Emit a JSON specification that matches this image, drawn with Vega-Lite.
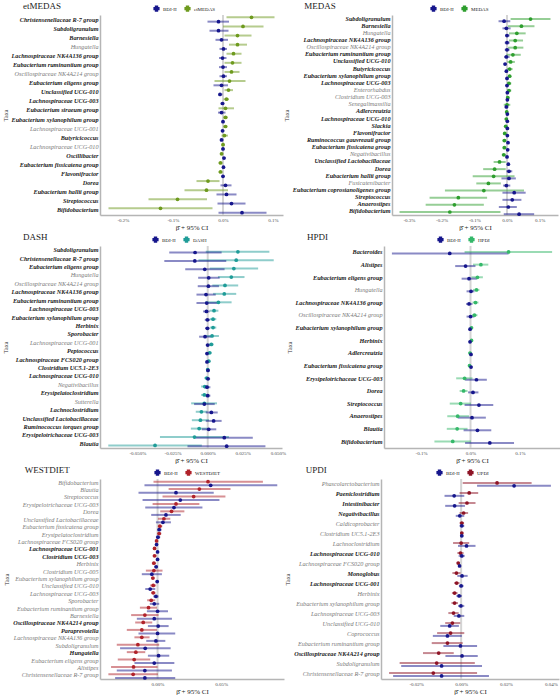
{
"$schema": "https://vega.github.io/schema/vega-lite/v6.json",
"background": "white",
"padding": {"left": 2, "top": 2, "right": 2, "bottom": 1},
"datasets": {
"etmedas": [
{"taxon":"Christensenellaceae R-7 group","group":"etMEDAS","beta":0.057,"lo":0.007,"hi":0.103},{"taxon":"Christensenellaceae R-7 group","group":"BDI-II","beta":-0.009,"lo":-0.031,"hi":0.012},
{"taxon":"Subdoligranulum","group":"etMEDAS","beta":0.040,"lo":0.000,"hi":0.081},{"taxon":"Subdoligranulum","group":"BDI-II","beta":-0.009,"lo":-0.027,"hi":0.011},
{"taxon":"Barnesiella","group":"etMEDAS","beta":0.029,"lo":0.003,"hi":0.057},{"taxon":"Barnesiella","group":"BDI-II","beta":-0.003,"lo":-0.015,"hi":0.010},
{"taxon":"Hungatella","group":"etMEDAS","beta":0.029,"lo":0.012,"hi":0.048},{"taxon":"Hungatella","group":"BDI-II","beta":0.001,"lo":-0.007,"hi":0.008},
{"taxon":"Lachnospiraceae NK4A136 group","group":"etMEDAS","beta":0.021,"lo":0.007,"hi":0.037},{"taxon":"Lachnospiraceae NK4A136 group","group":"BDI-II","beta":-0.001,"lo":-0.008,"hi":0.007},
{"taxon":"Eubacterium ruminantium group","group":"etMEDAS","beta":0.019,"lo":0.003,"hi":0.037},{"taxon":"Eubacterium ruminantium group","group":"BDI-II","beta":0.000,"lo":-0.008,"hi":0.008},
{"taxon":"Oscillospiraceae NK4A214 group","group":"etMEDAS","beta":0.017,"lo":0.003,"hi":0.033},{"taxon":"Oscillospiraceae NK4A214 group","group":"BDI-II","beta":0.001,"lo":-0.007,"hi":0.008},
{"taxon":"Eubacterium eligens group","group":"etMEDAS","beta":0.013,"lo":-0.017,"hi":0.045},{"taxon":"Eubacterium eligens group","group":"BDI-II","beta":-0.003,"lo":-0.019,"hi":0.010},
{"taxon":"Unclassified UCG-010","group":"etMEDAS","beta":0.011,"lo":0.003,"hi":0.020},{"taxon":"Unclassified UCG-010","group":"BDI-II","beta":-0.006,"lo":-0.009,"hi":-0.001},
{"taxon":"Lachnospiraceae UCG-003","group":"etMEDAS","beta":0.007,"lo":0.001,"hi":0.012},{"taxon":"Lachnospiraceae UCG-003","group":"BDI-II","beta":-0.001,"lo":-0.005,"hi":0.003},
{"taxon":"Eubacterium siraeum group","group":"etMEDAS","beta":0.005,"lo":-0.009,"hi":0.022},{"taxon":"Eubacterium siraeum group","group":"BDI-II","beta":-0.003,"lo":-0.010,"hi":0.005},
{"taxon":"Eubacterium xylanophilum group","group":"etMEDAS","beta":0.005,"lo":0.000,"hi":0.010},{"taxon":"Eubacterium xylanophilum group","group":"BDI-II","beta":0.000,"lo":-0.003,"hi":0.003},
{"taxon":"Lachnospiraceae UCG-001","group":"etMEDAS","beta":0.005,"lo":0.000,"hi":0.009},{"taxon":"Lachnospiraceae UCG-001","group":"BDI-II","beta":-0.001,"lo":-0.003,"hi":0.003},
{"taxon":"Butyricicoccus","group":"etMEDAS","beta":0.003,"lo":-0.003,"hi":0.010},{"taxon":"Butyricicoccus","group":"BDI-II","beta":-0.003,"lo":-0.006,"hi":0.001},
{"taxon":"Lachnospiraceae UCG-010","group":"etMEDAS","beta":0.000,"lo":-0.003,"hi":0.004},{"taxon":"Lachnospiraceae UCG-010","group":"BDI-II","beta":0.000,"lo":-0.003,"hi":0.003},
{"taxon":"Oscillibacter","group":"etMEDAS","beta":-0.003,"lo":-0.006,"hi":0.001},{"taxon":"Oscillibacter","group":"BDI-II","beta":0.002,"lo":-0.001,"hi":0.005},
{"taxon":"Eubacterium fissicatena group","group":"etMEDAS","beta":-0.005,"lo":-0.009,"hi":-0.001},{"taxon":"Eubacterium fissicatena group","group":"BDI-II","beta":0.001,"lo":-0.001,"hi":0.004},
{"taxon":"Flavonifractor","group":"etMEDAS","beta":-0.005,"lo":-0.009,"hi":-0.001},{"taxon":"Flavonifractor","group":"BDI-II","beta":0.000,"lo":-0.003,"hi":0.003},
{"taxon":"Dorea","group":"etMEDAS","beta":-0.030,"lo":-0.053,"hi":-0.007},{"taxon":"Dorea","group":"BDI-II","beta":0.005,"lo":-0.005,"hi":0.017},
{"taxon":"Eubacterium hallii group","group":"etMEDAS","beta":-0.033,"lo":-0.077,"hi":0.010},{"taxon":"Eubacterium hallii group","group":"BDI-II","beta":0.007,"lo":-0.013,"hi":0.027},
{"taxon":"Streptococcus","group":"etMEDAS","beta":-0.091,"lo":-0.149,"hi":-0.032},{"taxon":"Streptococcus","group":"BDI-II","beta":0.017,"lo":-0.011,"hi":0.045},
{"taxon":"Bifidobacterium","group":"etMEDAS","beta":-0.125,"lo":-0.229,"hi":-0.021},{"taxon":"Bifidobacterium","group":"BDI-II","beta":0.038,"lo":-0.009,"hi":0.087}
],
"medas": [
{"taxon":"Subdoligranulum","group":"MEDAS","beta":0.072,"lo":0.011,"hi":0.133},{"taxon":"Subdoligranulum","group":"BDI-II","beta":-0.009,"lo":-0.026,"hi":0.010},
{"taxon":"Barnesiella","group":"MEDAS","beta":0.044,"lo":0.003,"hi":0.084},{"taxon":"Barnesiella","group":"BDI-II","beta":-0.002,"lo":-0.014,"hi":0.011},
{"taxon":"Hungatella","group":"MEDAS","beta":0.030,"lo":0.006,"hi":0.057},{"taxon":"Hungatella","group":"BDI-II","beta":0.000,"lo":-0.006,"hi":0.008},
{"taxon":"Lachnospiraceae NK4A136 group","group":"MEDAS","beta":0.025,"lo":0.006,"hi":0.049},{"taxon":"Lachnospiraceae NK4A136 group","group":"BDI-II","beta":0.000,"lo":-0.007,"hi":0.008},
{"taxon":"Oscillospiraceae NK4A214 group","group":"MEDAS","beta":0.025,"lo":0.003,"hi":0.050},{"taxon":"Oscillospiraceae NK4A214 group","group":"BDI-II","beta":0.000,"lo":-0.007,"hi":0.008},
{"taxon":"Eubacterium ruminantium group","group":"MEDAS","beta":0.018,"lo":-0.002,"hi":0.042},{"taxon":"Eubacterium ruminantium group","group":"BDI-II","beta":-0.002,"lo":-0.009,"hi":0.008},
{"taxon":"Unclassified UCG-010","group":"MEDAS","beta":0.011,"lo":0.001,"hi":0.024},{"taxon":"Unclassified UCG-010","group":"BDI-II","beta":-0.006,"lo":-0.010,"hi":-0.001},
{"taxon":"Butyricicoccus","group":"MEDAS","beta":0.008,"lo":0.000,"hi":0.017},{"taxon":"Butyricicoccus","group":"BDI-II","beta":-0.002,"lo":-0.006,"hi":0.003},
{"taxon":"Eubacterium xylanophilum group","group":"MEDAS","beta":0.008,"lo":0.003,"hi":0.013},{"taxon":"Eubacterium xylanophilum group","group":"BDI-II","beta":0.000,"lo":-0.004,"hi":0.004},
{"taxon":"Lachnospiraceae UCG-003","group":"MEDAS","beta":0.006,"lo":0.000,"hi":0.013},{"taxon":"Lachnospiraceae UCG-003","group":"BDI-II","beta":0.000,"lo":-0.005,"hi":0.004},
{"taxon":"Enterorhabdus","group":"MEDAS","beta":0.006,"lo":0.000,"hi":0.013},{"taxon":"Enterorhabdus","group":"BDI-II","beta":0.001,"lo":-0.003,"hi":0.005},
{"taxon":"Clostridium UCG-003","group":"MEDAS","beta":0.002,"lo":-0.003,"hi":0.008},{"taxon":"Clostridium UCG-003","group":"BDI-II","beta":0.001,"lo":-0.003,"hi":0.005},
{"taxon":"Senegalimassilia","group":"MEDAS","beta":0.000,"lo":-0.010,"hi":0.010},{"taxon":"Senegalimassilia","group":"BDI-II","beta":-0.002,"lo":-0.007,"hi":0.004},
{"taxon":"Adlercreutzia","group":"MEDAS","beta":-0.001,"lo":-0.006,"hi":0.004},{"taxon":"Adlercreutzia","group":"BDI-II","beta":0.001,"lo":-0.002,"hi":0.005},
{"taxon":"Lachnospiraceae UCG-010","group":"MEDAS","beta":-0.002,"lo":-0.007,"hi":0.003},{"taxon":"Lachnospiraceae UCG-010","group":"BDI-II","beta":0.001,"lo":-0.002,"hi":0.005},
{"taxon":"Slackia","group":"MEDAS","beta":-0.004,"lo":-0.009,"hi":0.001},{"taxon":"Slackia","group":"BDI-II","beta":0.001,"lo":-0.002,"hi":0.005},
{"taxon":"Flavonifractor","group":"MEDAS","beta":-0.007,"lo":-0.012,"hi":-0.002},{"taxon":"Flavonifractor","group":"BDI-II","beta":0.001,"lo":-0.003,"hi":0.005},
{"taxon":"Ruminococcus gauvreauii group","group":"MEDAS","beta":-0.008,"lo":-0.014,"hi":-0.002},{"taxon":"Ruminococcus gauvreauii group","group":"BDI-II","beta":0.003,"lo":-0.001,"hi":0.007},
{"taxon":"Eubacterium fissicatena group","group":"MEDAS","beta":-0.008,"lo":-0.014,"hi":-0.002},{"taxon":"Eubacterium fissicatena group","group":"BDI-II","beta":0.002,"lo":-0.002,"hi":0.006},
{"taxon":"Negativibacillus","group":"MEDAS","beta":-0.010,"lo":-0.016,"hi":-0.003},{"taxon":"Negativibacillus","group":"BDI-II","beta":0.000,"lo":-0.004,"hi":0.004},
{"taxon":"Unclassified Lactobacillaceae","group":"MEDAS","beta":-0.023,"lo":-0.041,"hi":-0.004},{"taxon":"Unclassified Lactobacillaceae","group":"BDI-II","beta":0.004,"lo":0.000,"hi":0.008},
{"taxon":"Dorea","group":"MEDAS","beta":-0.038,"lo":-0.073,"hi":-0.004},{"taxon":"Dorea","group":"BDI-II","beta":0.006,"lo":-0.002,"hi":0.016},
{"taxon":"Eubacterium hallii group","group":"MEDAS","beta":-0.041,"lo":-0.105,"hi":0.023},{"taxon":"Eubacterium hallii group","group":"BDI-II","beta":0.006,"lo":-0.017,"hi":0.027},
{"taxon":"Fusicatenibacter","group":"MEDAS","beta":-0.057,"lo":-0.094,"hi":-0.019},{"taxon":"Fusicatenibacter","group":"BDI-II","beta":-0.002,"lo":-0.012,"hi":0.010},
{"taxon":"Eubacterium coprostanoligenes group","group":"MEDAS","beta":-0.071,"lo":-0.190,"hi":0.052},{"taxon":"Eubacterium coprostanoligenes group","group":"BDI-II","beta":0.022,"lo":-0.014,"hi":0.057},
{"taxon":"Streptococcus","group":"MEDAS","beta":-0.149,"lo":-0.237,"hi":-0.061},{"taxon":"Streptococcus","group":"BDI-II","beta":0.016,"lo":-0.014,"hi":0.044},
{"taxon":"Anaerostipes","group":"MEDAS","beta":-0.161,"lo":-0.249,"hi":-0.071},{"taxon":"Anaerostipes","group":"BDI-II","beta":0.004,"lo":-0.025,"hi":0.030},
{"taxon":"Bifidobacterium","group":"MEDAS","beta":-0.175,"lo":-0.329,"hi":-0.020},{"taxon":"Bifidobacterium","group":"BDI-II","beta":0.037,"lo":-0.010,"hi":0.083}
],
"dash": [
{"taxon":"Subdoligranulum","group":"DASH","beta":0.0215,"lo":-0.0014,"hi":0.0439},{"taxon":"Subdoligranulum","group":"BDI-II","beta":-0.0090,"lo":-0.0274,"hi":0.0099},
{"taxon":"Christensenellaceae R-7 group","group":"DASH","beta":0.0203,"lo":-0.0066,"hi":0.0470},{"taxon":"Christensenellaceae R-7 group","group":"BDI-II","beta":-0.0092,"lo":-0.0309,"hi":0.0132},
{"taxon":"Eubacterium eligens group","group":"DASH","beta":0.0186,"lo":0.0014,"hi":0.0359},{"taxon":"Eubacterium eligens group","group":"BDI-II","beta":-0.0021,"lo":-0.0160,"hi":0.0120},
{"taxon":"Hungatella","group":"DASH","beta":0.0168,"lo":0.0073,"hi":0.0262},{"taxon":"Hungatella","group":"BDI-II","beta":0.0007,"lo":-0.0068,"hi":0.0085},
{"taxon":"Oscillospiraceae NK4A214 group","group":"DASH","beta":0.0123,"lo":0.0033,"hi":0.0217},{"taxon":"Oscillospiraceae NK4A214 group","group":"BDI-II","beta":0.0005,"lo":-0.0071,"hi":0.0080},
{"taxon":"Lachnospiraceae NK4A136 group","group":"DASH","beta":0.0118,"lo":0.0038,"hi":0.0203},{"taxon":"Lachnospiraceae NK4A136 group","group":"BDI-II","beta":-0.0012,"lo":-0.0080,"hi":0.0057},
{"taxon":"Eubacterium ruminantium group","group":"DASH","beta":0.0076,"lo":-0.0019,"hi":0.0170},{"taxon":"Eubacterium ruminantium group","group":"BDI-II","beta":-0.0007,"lo":-0.0080,"hi":0.0069},
{"taxon":"Lachnospiraceae UCG-003","group":"DASH","beta":0.0045,"lo":0.0014,"hi":0.0076},{"taxon":"Lachnospiraceae UCG-003","group":"BDI-II","beta":-0.0009,"lo":-0.0033,"hi":0.0014},
{"taxon":"Eubacterium xylanophilum group","group":"DASH","beta":0.0038,"lo":0.0014,"hi":0.0061},{"taxon":"Eubacterium xylanophilum group","group":"BDI-II","beta":-0.0002,"lo":-0.0021,"hi":0.0017},
{"taxon":"Herbinix","group":"DASH","beta":0.0038,"lo":0.0017,"hi":0.0061},{"taxon":"Herbinix","group":"BDI-II","beta":-0.0002,"lo":-0.0019,"hi":0.0014},
{"taxon":"Sporobacter","group":"DASH","beta":0.0031,"lo":-0.0019,"hi":0.0080},{"taxon":"Sporobacter","group":"BDI-II","beta":-0.0019,"lo":-0.0061,"hi":0.0026},
{"taxon":"Lachnospiraceae UCG-001","group":"DASH","beta":0.0026,"lo":0.0009,"hi":0.0042},{"taxon":"Lachnospiraceae UCG-001","group":"BDI-II","beta":0.0000,"lo":-0.0014,"hi":0.0014},
{"taxon":"Peptococcus","group":"DASH","beta":0.0014,"lo":0.0000,"hi":0.0028},{"taxon":"Peptococcus","group":"BDI-II","beta":-0.0005,"lo":-0.0014,"hi":0.0007},
{"taxon":"Lachnospiraceae FCS020 group","group":"DASH","beta":0.0007,"lo":-0.0005,"hi":0.0021},{"taxon":"Lachnospiraceae FCS020 group","group":"BDI-II","beta":-0.0005,"lo":-0.0014,"hi":0.0005},
{"taxon":"Clostridium UC5.1-2E3","group":"DASH","beta":0.0000,"lo":-0.0012,"hi":0.0012},{"taxon":"Clostridium UC5.1-2E3","group":"BDI-II","beta":0.0002,"lo":-0.0007,"hi":0.0012},
{"taxon":"Lachnospiraceae UCG-010","group":"DASH","beta":-0.0007,"lo":-0.0024,"hi":0.0009},{"taxon":"Lachnospiraceae UCG-010","group":"BDI-II","beta":0.0002,"lo":-0.0012,"hi":0.0017},
{"taxon":"Negativibacillus","group":"DASH","beta":-0.0021,"lo":-0.0047,"hi":0.0005},{"taxon":"Negativibacillus","group":"BDI-II","beta":-0.0005,"lo":-0.0026,"hi":0.0019},
{"taxon":"Erysipelatoclostridium","group":"DASH","beta":-0.0024,"lo":-0.0047,"hi":0.0002},{"taxon":"Erysipelatoclostridium","group":"BDI-II","beta":0.0000,"lo":-0.0019,"hi":0.0019},
{"taxon":"Sutterella","group":"DASH","beta":-0.0024,"lo":-0.0118,"hi":0.0066},{"taxon":"Sutterella","group":"BDI-II","beta":-0.0024,"lo":-0.0097,"hi":0.0050},
{"taxon":"Lachnoclostridium","group":"DASH","beta":-0.0045,"lo":-0.0085,"hi":-0.0002},{"taxon":"Lachnoclostridium","group":"BDI-II","beta":0.0026,"lo":-0.0014,"hi":0.0071},
{"taxon":"Unclassified Lactobacillaceae","group":"DASH","beta":-0.0052,"lo":-0.0113,"hi":0.0009},{"taxon":"Unclassified Lactobacillaceae","group":"BDI-II","beta":0.0042,"lo":-0.0014,"hi":0.0099},
{"taxon":"Ruminococcus torques group","group":"DASH","beta":-0.0061,"lo":-0.0120,"hi":0.0000},{"taxon":"Ruminococcus torques group","group":"BDI-II","beta":0.0007,"lo":-0.0042,"hi":0.0061},
{"taxon":"Erysipelotrichaceae UCG-003","group":"DASH","beta":-0.0094,"lo":-0.0340,"hi":0.0151},{"taxon":"Erysipelotrichaceae UCG-003","group":"BDI-II","beta":0.0118,"lo":-0.0085,"hi":0.0321},
{"taxon":"Blautia","group":"DASH","beta":-0.0375,"lo":-0.0708,"hi":-0.0042},{"taxon":"Blautia","group":"BDI-II","beta":0.0135,"lo":-0.0144,"hi":0.0411}
],
"hpdi": [
{"taxon":"Bacteroides","group":"HPDI","beta":0.077,"lo":-0.012,"hi":0.165},{"taxon":"Bacteroides","group":"BDI-II","beta":-0.042,"lo":-0.159,"hi":0.077},
{"taxon":"Alistipes","group":"HPDI","beta":0.021,"lo":0.005,"hi":0.036},{"taxon":"Alistipes","group":"BDI-II","beta":-0.010,"lo":-0.031,"hi":0.010},
{"taxon":"Eubacterium eligens group","group":"HPDI","beta":0.014,"lo":0.002,"hi":0.025},{"taxon":"Eubacterium eligens group","group":"BDI-II","beta":-0.003,"lo":-0.018,"hi":0.013},
{"taxon":"Hungatella","group":"HPDI","beta":0.012,"lo":0.005,"hi":0.018},{"taxon":"Hungatella","group":"BDI-II","beta":0.001,"lo":-0.008,"hi":0.008},
{"taxon":"Lachnospiraceae NK4A136 group","group":"HPDI","beta":0.010,"lo":0.004,"hi":0.016},{"taxon":"Lachnospiraceae NK4A136 group","group":"BDI-II","beta":-0.003,"lo":-0.009,"hi":0.004},
{"taxon":"Oscillospiraceae NK4A214 group","group":"HPDI","beta":0.008,"lo":0.003,"hi":0.014},{"taxon":"Oscillospiraceae NK4A214 group","group":"BDI-II","beta":0.000,"lo":-0.008,"hi":0.008},
{"taxon":"Eubacterium xylanophilum group","group":"HPDI","beta":0.002,"lo":-0.001,"hi":0.005},{"taxon":"Eubacterium xylanophilum group","group":"BDI-II","beta":-0.001,"lo":-0.003,"hi":0.003},
{"taxon":"Herbinix","group":"HPDI","beta":0.002,"lo":-0.001,"hi":0.005},{"taxon":"Herbinix","group":"BDI-II","beta":-0.001,"lo":-0.003,"hi":0.002},
{"taxon":"Adlercreutzia","group":"HPDI","beta":-0.001,"lo":-0.004,"hi":0.002},{"taxon":"Adlercreutzia","group":"BDI-II","beta":0.001,"lo":-0.002,"hi":0.003},
{"taxon":"Eubacterium fissicatena group","group":"HPDI","beta":-0.002,"lo":-0.005,"hi":0.001},{"taxon":"Eubacterium fissicatena group","group":"BDI-II","beta":0.001,"lo":-0.001,"hi":0.004},
{"taxon":"Erysipelotrichaceae UCG-003","group":"HPDI","beta":-0.012,"lo":-0.029,"hi":0.004},{"taxon":"Erysipelotrichaceae UCG-003","group":"BDI-II","beta":0.012,"lo":-0.011,"hi":0.033},
{"taxon":"Dorea","group":"HPDI","beta":-0.014,"lo":-0.022,"hi":-0.006},{"taxon":"Dorea","group":"BDI-II","beta":0.005,"lo":-0.005,"hi":0.016},
{"taxon":"Streptococcus","group":"HPDI","beta":-0.020,"lo":-0.042,"hi":0.001},{"taxon":"Streptococcus","group":"BDI-II","beta":0.017,"lo":-0.012,"hi":0.046},
{"taxon":"Anaerostipes","group":"HPDI","beta":-0.026,"lo":-0.047,"hi":-0.003},{"taxon":"Anaerostipes","group":"BDI-II","beta":0.003,"lo":-0.026,"hi":0.031},
{"taxon":"Blautia","group":"HPDI","beta":-0.027,"lo":-0.048,"hi":-0.006},{"taxon":"Blautia","group":"BDI-II","beta":0.014,"lo":-0.014,"hi":0.042},
{"taxon":"Bifidobacterium","group":"HPDI","beta":-0.036,"lo":-0.073,"hi":0.001},{"taxon":"Bifidobacterium","group":"BDI-II","beta":0.039,"lo":-0.011,"hi":0.088}
],
"westdiet": [
{"taxon":"Bifidobacterium","group":"WESTDIET","beta":0.0397,"lo":-0.0032,"hi":0.0829},{"taxon":"Bifidobacterium","group":"BDI-II","beta":0.0418,"lo":-0.0103,"hi":0.0942},
{"taxon":"Blautia","group":"WESTDIET","beta":0.0329,"lo":0.0087,"hi":0.0574},{"taxon":"Blautia","group":"BDI-II","beta":0.0145,"lo":-0.0150,"hi":0.0442},
{"taxon":"Streptococcus","group":"WESTDIET","beta":0.0284,"lo":0.0039,"hi":0.0534},{"taxon":"Streptococcus","group":"BDI-II","beta":0.0179,"lo":-0.0118,"hi":0.0487},
{"taxon":"Erysipelotrichaceae UCG-003","group":"WESTDIET","beta":0.0145,"lo":-0.0039,"hi":0.0329},{"taxon":"Erysipelotrichaceae UCG-003","group":"BDI-II","beta":0.0129,"lo":-0.0097,"hi":0.0353},
{"taxon":"Dorea","group":"WESTDIET","beta":0.0110,"lo":0.0021,"hi":0.0211},{"taxon":"Dorea","group":"BDI-II","beta":0.0066,"lo":-0.0050,"hi":0.0182},
{"taxon":"Unclassified Lactobacillaceae","group":"WESTDIET","beta":0.0050,"lo":0.0003,"hi":0.0100},{"taxon":"Unclassified Lactobacillaceae","group":"BDI-II","beta":0.0042,"lo":-0.0013,"hi":0.0105},
{"taxon":"Eubacterium fissicatena group","group":"WESTDIET","beta":0.0018,"lo":0.0003,"hi":0.0037},{"taxon":"Eubacterium fissicatena group","group":"BDI-II","beta":0.0013,"lo":-0.0003,"hi":0.0032},
{"taxon":"Erysipelatoclostridium","group":"WESTDIET","beta":0.0013,"lo":-0.0005,"hi":0.0029},{"taxon":"Erysipelatoclostridium","group":"BDI-II","beta":0.0003,"lo":-0.0013,"hi":0.0021},
{"taxon":"Lachnospiraceae FCS020 group","group":"WESTDIET","beta":-0.0008,"lo":-0.0018,"hi":0.0003},{"taxon":"Lachnospiraceae FCS020 group","group":"BDI-II","beta":-0.0008,"lo":-0.0018,"hi":0.0003},
{"taxon":"Lachnospiraceae UCG-001","group":"WESTDIET","beta":-0.0024,"lo":-0.0034,"hi":-0.0011},{"taxon":"Lachnospiraceae UCG-001","group":"BDI-II","beta":0.0000,"lo":-0.0011,"hi":0.0011},
{"taxon":"Clostridium UCG-003","group":"WESTDIET","beta":-0.0024,"lo":-0.0037,"hi":-0.0008},{"taxon":"Clostridium UCG-003","group":"BDI-II","beta":0.0000,"lo":-0.0013,"hi":0.0013},
{"taxon":"Herbinix","group":"WESTDIET","beta":-0.0029,"lo":-0.0045,"hi":-0.0013},{"taxon":"Herbinix","group":"BDI-II","beta":-0.0011,"lo":-0.0026,"hi":0.0003},
{"taxon":"Clostridium UCG-005","group":"WESTDIET","beta":-0.0029,"lo":-0.0092,"hi":0.0039},{"taxon":"Clostridium UCG-005","group":"BDI-II","beta":-0.0045,"lo":-0.0124,"hi":0.0034},
{"taxon":"Eubacterium xylanophilum group","group":"WESTDIET","beta":-0.0037,"lo":-0.0050,"hi":-0.0024},{"taxon":"Eubacterium xylanophilum group","group":"BDI-II","beta":-0.0003,"lo":-0.0013,"hi":0.0008},
{"taxon":"Unclassified UCG-010","group":"WESTDIET","beta":-0.0034,"lo":-0.0058,"hi":-0.0011},{"taxon":"Unclassified UCG-010","group":"BDI-II","beta":-0.0058,"lo":-0.0097,"hi":-0.0018},
{"taxon":"Lachnospiraceae UCG-003","group":"WESTDIET","beta":-0.0034,"lo":-0.0050,"hi":-0.0016},{"taxon":"Lachnospiraceae UCG-003","group":"BDI-II","beta":-0.0013,"lo":-0.0034,"hi":0.0008},
{"taxon":"Sporobacter","group":"WESTDIET","beta":-0.0050,"lo":-0.0082,"hi":-0.0018},{"taxon":"Sporobacter","group":"BDI-II","beta":-0.0026,"lo":-0.0061,"hi":0.0013},
{"taxon":"Eubacterium ruminantium group","group":"WESTDIET","beta":-0.0071,"lo":-0.0139,"hi":-0.0005},{"taxon":"Eubacterium ruminantium group","group":"BDI-II","beta":0.0000,"lo":-0.0084,"hi":0.0082},
{"taxon":"Barnesiella","group":"WESTDIET","beta":-0.0100,"lo":-0.0208,"hi":0.0008},{"taxon":"Barnesiella","group":"BDI-II","beta":-0.0026,"lo":-0.0163,"hi":0.0113},
{"taxon":"Oscillospiraceae NK4A214 group","group":"WESTDIET","beta":-0.0113,"lo":-0.0176,"hi":-0.0042},{"taxon":"Oscillospiraceae NK4A214 group","group":"BDI-II","beta":0.0005,"lo":-0.0076,"hi":0.0087},
{"taxon":"Paraprevotella","group":"WESTDIET","beta":-0.0124,"lo":-0.0242,"hi":-0.0005},{"taxon":"Paraprevotella","group":"BDI-II","beta":0.0000,"lo":-0.0150,"hi":0.0139},
{"taxon":"Lachnospiraceae NK4A136 group","group":"WESTDIET","beta":-0.0124,"lo":-0.0182,"hi":-0.0063},{"taxon":"Lachnospiraceae NK4A136 group","group":"BDI-II","beta":-0.0013,"lo":-0.0089,"hi":0.0061},
{"taxon":"Subdoligranulum","group":"WESTDIET","beta":-0.0155,"lo":-0.0321,"hi":0.0013},{"taxon":"Subdoligranulum","group":"BDI-II","beta":-0.0097,"lo":-0.0295,"hi":0.0103},
{"taxon":"Hungatella","group":"WESTDIET","beta":-0.0171,"lo":-0.0242,"hi":-0.0097},{"taxon":"Hungatella","group":"BDI-II","beta":0.0008,"lo":-0.0076,"hi":0.0092},
{"taxon":"Eubacterium eligens group","group":"WESTDIET","beta":-0.0184,"lo":-0.0313,"hi":-0.0058},{"taxon":"Eubacterium eligens group","group":"BDI-II","beta":-0.0026,"lo":-0.0182,"hi":0.0132},
{"taxon":"Alistipes","group":"WESTDIET","beta":-0.0189,"lo":-0.0366,"hi":0.0000},{"taxon":"Alistipes","group":"BDI-II","beta":-0.0100,"lo":-0.0321,"hi":0.0113},
{"taxon":"Christensenellaceae R-7 group","group":"WESTDIET","beta":-0.0192,"lo":-0.0387,"hi":0.0003},{"taxon":"Christensenellaceae R-7 group","group":"BDI-II","beta":-0.0100,"lo":-0.0334,"hi":0.0139}
],
"updi": [
{"taxon":"Phascolarctobacterium","group":"UPDI","beta":0.0160,"lo":0.0007,"hi":0.0314},{"taxon":"Phascolarctobacterium","group":"BDI-II","beta":0.0236,"lo":0.0071,"hi":0.0400},
{"taxon":"Paeniclostridium","group":"UPDI","beta":0.0036,"lo":-0.0007,"hi":0.0076},{"taxon":"Paeniclostridium","group":"BDI-II","beta":-0.0031,"lo":-0.0074,"hi":0.0014},
{"taxon":"Intestinibacter","group":"UPDI","beta":0.0026,"lo":-0.0011,"hi":0.0064},{"taxon":"Intestinibacter","group":"BDI-II","beta":-0.0029,"lo":-0.0071,"hi":0.0017},
{"taxon":"Negativibacillus","group":"UPDI","beta":0.0011,"lo":-0.0007,"hi":0.0031},{"taxon":"Negativibacillus","group":"BDI-II","beta":-0.0006,"lo":-0.0024,"hi":0.0014},
{"taxon":"Caldicoprobacter","group":"UPDI","beta":0.0003,"lo":-0.0007,"hi":0.0013},{"taxon":"Caldicoprobacter","group":"BDI-II","beta":0.0003,"lo":-0.0007,"hi":0.0014},
{"taxon":"Clostridium UC5.1-2E3","group":"UPDI","beta":0.0003,"lo":-0.0004,"hi":0.0009},{"taxon":"Clostridium UC5.1-2E3","group":"BDI-II","beta":0.0003,"lo":-0.0004,"hi":0.0009},
{"taxon":"Lachnoclostridium","group":"UPDI","beta":0.0000,"lo":-0.0036,"hi":0.0036},{"taxon":"Lachnoclostridium","group":"BDI-II","beta":0.0024,"lo":-0.0014,"hi":0.0064},
{"taxon":"Lachnospiraceae UCG-010","group":"UPDI","beta":-0.0003,"lo":-0.0017,"hi":0.0011},{"taxon":"Lachnospiraceae UCG-010","group":"BDI-II","beta":0.0003,"lo":-0.0011,"hi":0.0016},
{"taxon":"Lachnospiraceae FCS020 group","group":"UPDI","beta":-0.0013,"lo":-0.0019,"hi":-0.0007},{"taxon":"Lachnospiraceae FCS020 group","group":"BDI-II","beta":-0.0007,"lo":-0.0013,"hi":-0.0001},
{"taxon":"Monoglobus","group":"UPDI","beta":-0.0021,"lo":-0.0039,"hi":-0.0003},{"taxon":"Monoglobus","group":"BDI-II","beta":0.0004,"lo":-0.0017,"hi":0.0029},
{"taxon":"Lachnospiraceae UCG-001","group":"UPDI","beta":-0.0020,"lo":-0.0031,"hi":-0.0007},{"taxon":"Lachnospiraceae UCG-001","group":"BDI-II","beta":0.0000,"lo":-0.0010,"hi":0.0011},
{"taxon":"Herbinix","group":"UPDI","beta":-0.0029,"lo":-0.0041,"hi":-0.0016},{"taxon":"Herbinix","group":"BDI-II","beta":-0.0009,"lo":-0.0021,"hi":0.0004},
{"taxon":"Eubacterium xylanophilum group","group":"UPDI","beta":-0.0029,"lo":-0.0043,"hi":-0.0014},{"taxon":"Eubacterium xylanophilum group","group":"BDI-II","beta":-0.0001,"lo":-0.0014,"hi":0.0014},
{"taxon":"Lachnospiraceae UCG-003","group":"UPDI","beta":-0.0034,"lo":-0.0057,"hi":-0.0011},{"taxon":"Lachnospiraceae UCG-003","group":"BDI-II","beta":-0.0010,"lo":-0.0033,"hi":0.0014},
{"taxon":"Unclassified UCG-010","group":"UPDI","beta":-0.0039,"lo":-0.0071,"hi":-0.0004},{"taxon":"Unclassified UCG-010","group":"BDI-II","beta":-0.0051,"lo":-0.0093,"hi":-0.0010},
{"taxon":"Coprococcus","group":"UPDI","beta":-0.0047,"lo":-0.0107,"hi":0.0014},{"taxon":"Coprococcus","group":"BDI-II","beta":-0.0061,"lo":-0.0126,"hi":0.0003},
{"taxon":"Eubacterium ruminantium group","group":"UPDI","beta":-0.0061,"lo":-0.0131,"hi":0.0007},{"taxon":"Eubacterium ruminantium group","group":"BDI-II","beta":-0.0003,"lo":-0.0079,"hi":0.0071},
{"taxon":"Oscillospiraceae NK4A214 group","group":"UPDI","beta":-0.0100,"lo":-0.0170,"hi":-0.0033},{"taxon":"Oscillospiraceae NK4A214 group","group":"BDI-II","beta":0.0004,"lo":-0.0070,"hi":0.0074},
{"taxon":"Subdoligranulum","group":"UPDI","beta":-0.0109,"lo":-0.0274,"hi":0.0061},{"taxon":"Subdoligranulum","group":"BDI-II","beta":-0.0087,"lo":-0.0267,"hi":0.0093},
{"taxon":"Christensenellaceae R-7 group","group":"UPDI","beta":-0.0124,"lo":-0.0321,"hi":0.0071},{"taxon":"Christensenellaceae R-7 group","group":"BDI-II","beta":-0.0087,"lo":-0.0303,"hi":0.0124}
]
},
"vconcat": [
{"hconcat": [
{"width": 183, "height": 200, "title": {"text": "etMEDAS"}, "data": {"name": "etmedas"},
 "layer": [
  {"data": {"values": [{}]}, "mark": {"type": "rule", "color": "#d4d4d4", "strokeWidth": 2}, "encoding": {"x": {"datum": 0}}},
  {"mark": {"type": "rule", "strokeWidth": 2, "opacity": 0.5},
   "encoding": {
    "y": {"field": "taxon", "type": "nominal", "sort": null, "title": "Taxa", "scale": {"paddingInner": 0.45, "paddingOuter": 0.22},
      "axis": {"labelColor": {"condition": {"test": "indexof(['Hungatella','Oscillospiraceae NK4A214 group','Lachnospiraceae UCG-001','Lachnospiraceae UCG-010'], datum.value) >= 0", "value": "#7a7a7a"}, "value": "#1a1a1a"},
               "labelFontWeight": {"condition": {"test": "indexof(['Hungatella','Oscillospiraceae NK4A214 group','Lachnospiraceae UCG-001','Lachnospiraceae UCG-010'], datum.value) >= 0", "value": "normal"}, "value": "bold"}}},
    "yOffset": {"field": "group", "sort": "descending"},
    "x": {"field": "lo", "type": "quantitative", "title": "β̂ + 95% CI", "scale": {"domain": [-0.246, 0.12], "nice": false, "zero": false},
      "axis": {"values": [-0.2, -0.1, 0, 0.1], "labelExpr": "replace(format(datum.value, '.1f'), '−', '-') + '%'"}},
    "x2": {"field": "hi"},
    "color": {"field": "group", "type": "nominal", "scale": {"domain": ["BDI-II", "etMEDAS"], "range": ["#16168c", "#6e9a1e"]}, "legend": {"legendX": 53}}
   }},
  {"mark": {"type": "point", "filled": true, "size": 14, "opacity": 1},
   "encoding": {
    "y": {"field": "taxon", "type": "nominal", "sort": null, "title": "Taxa"},
    "yOffset": {"field": "group", "sort": "descending"},
    "x": {"field": "beta", "type": "quantitative", "title": "β̂ + 95% CI"},
    "color": {"field": "group", "type": "nominal"}
   }}
 ]},
{"width": 166, "height": 200, "title": {"text": "MEDAS"}, "data": {"name": "medas"},
 "layer": [
  {"data": {"values": [{}]}, "mark": {"type": "rule", "color": "#d4d4d4", "strokeWidth": 2}, "encoding": {"x": {"datum": 0}}},
  {"mark": {"type": "rule", "strokeWidth": 2, "opacity": 0.5},
   "encoding": {
    "y": {"field": "taxon", "type": "nominal", "sort": null, "title": "Taxa", "scale": {"paddingInner": 0.45, "paddingOuter": 0.22},
      "axis": {"labelColor": {"condition": {"test": "indexof(['Hungatella','Oscillospiraceae NK4A214 group','Enterorhabdus','Clostridium UCG-003','Senegalimassilia','Negativibacillus','Fusicatenibacter'], datum.value) >= 0", "value": "#7a7a7a"}, "value": "#1a1a1a"},
               "labelFontWeight": {"condition": {"test": "indexof(['Hungatella','Oscillospiraceae NK4A214 group','Enterorhabdus','Clostridium UCG-003','Senegalimassilia','Negativibacillus','Fusicatenibacter'], datum.value) >= 0", "value": "normal"}, "value": "bold"}}},
    "yOffset": {"field": "group", "sort": "descending"},
    "x": {"field": "lo", "type": "quantitative", "title": "β̂ + 95% CI", "scale": {"domain": [-0.352, 0.156], "nice": false, "zero": false},
      "axis": {"values": [-0.3, -0.2, -0.1, 0, 0.1], "labelExpr": "replace(format(datum.value, '.1f'), '−', '-') + '%'"}},
    "x2": {"field": "hi"},
    "color": {"field": "group", "type": "nominal", "scale": {"domain": ["BDI-II", "MEDAS"], "range": ["#16168c", "#2e9e2e"]}, "legend": {"legendX": 38}}
   }},
  {"mark": {"type": "point", "filled": true, "size": 14, "opacity": 1},
   "encoding": {
    "y": {"field": "taxon", "type": "nominal", "sort": null, "title": "Taxa"},
    "yOffset": {"field": "group", "sort": "descending"},
    "x": {"field": "beta", "type": "quantitative", "title": "β̂ + 95% CI"},
    "color": {"field": "group", "type": "nominal"}
   }}
 ]}
], "spacing": 0, "resolve": {"scale": {"color": "independent"}, "legend": {"color": "independent"}}},
{"hconcat": [
{"width": 182, "height": 202, "title": {"text": "DASH"}, "data": {"name": "dash"},
 "layer": [
  {"data": {"values": [{}]}, "mark": {"type": "rule", "color": "#d4d4d4", "strokeWidth": 2}, "encoding": {"x": {"datum": 0}}},
  {"mark": {"type": "rule", "strokeWidth": 2, "opacity": 0.5},
   "encoding": {
    "y": {"field": "taxon", "type": "nominal", "sort": null, "title": "Taxa", "scale": {"paddingInner": 0.45, "paddingOuter": 0.22},
      "axis": {"labelColor": {"condition": {"test": "indexof(['Hungatella','Oscillospiraceae NK4A214 group','Lachnospiraceae UCG-001','Negativibacillus','Sutterella'], datum.value) >= 0", "value": "#7a7a7a"}, "value": "#1a1a1a"},
               "labelFontWeight": {"condition": {"test": "indexof(['Hungatella','Oscillospiraceae NK4A214 group','Lachnospiraceae UCG-001','Negativibacillus','Sutterella'], datum.value) >= 0", "value": "normal"}, "value": "bold"}}},
    "yOffset": {"field": "group", "sort": "descending"},
    "x": {"field": "lo", "type": "quantitative", "title": "β̂ + 95% CI", "scale": {"domain": [-0.0767, 0.0529], "nice": false, "zero": false},
      "axis": {"values": [-0.05, -0.025, 0, 0.025, 0.05], "labelExpr": "replace(format(datum.value, '.3f'), '−', '-') + '%'"}},
    "x2": {"field": "hi"},
    "color": {"field": "group", "type": "nominal", "scale": {"domain": ["BDI-II", "DASH"], "range": ["#16168c", "#1f9c98"]}, "legend": {"legendX": 52}}
   }},
  {"mark": {"type": "point", "filled": true, "size": 14, "opacity": 1},
   "encoding": {
    "y": {"field": "taxon", "type": "nominal", "sort": null, "title": "Taxa"},
    "yOffset": {"field": "group", "sort": "descending"},
    "x": {"field": "beta", "type": "quantitative", "title": "β̂ + 95% CI"},
    "color": {"field": "group", "type": "nominal"}
   }}
 ]},
{"width": 176, "height": 202, "title": {"text": "HPDI"}, "data": {"name": "hpdi"},
 "layer": [
  {"data": {"values": [{}]}, "mark": {"type": "rule", "color": "#d4d4d4", "strokeWidth": 2}, "encoding": {"x": {"datum": 0}}},
  {"mark": {"type": "rule", "strokeWidth": 2, "opacity": 0.5},
   "encoding": {
    "y": {"field": "taxon", "type": "nominal", "sort": null, "title": "Taxa", "scale": {"paddingInner": 0.45, "paddingOuter": 0.22},
      "axis": {"labelColor": {"condition": {"test": "indexof(['Hungatella','Oscillospiraceae NK4A214 group'], datum.value) >= 0", "value": "#7a7a7a"}, "value": "#1a1a1a"},
               "labelFontWeight": {"condition": {"test": "indexof(['Hungatella','Oscillospiraceae NK4A214 group'], datum.value) >= 0", "value": "normal"}, "value": "bold"}}},
    "yOffset": {"field": "group", "sort": "descending"},
    "x": {"field": "lo", "type": "quantitative", "title": "β̂ + 95% CI", "scale": {"domain": [-0.175, 0.181], "nice": false, "zero": false},
      "axis": {"values": [-0.1, 0, 0.1], "labelExpr": "replace(format(datum.value, '.1f'), '−', '-') + '%'"}},
    "x2": {"field": "hi"},
    "color": {"field": "group", "type": "nominal", "scale": {"domain": ["BDI-II", "HPDI"], "range": ["#16168c", "#35b86a"]}, "legend": {"legendX": 53}}
   }},
  {"mark": {"type": "point", "filled": true, "size": 14, "opacity": 1},
   "encoding": {
    "y": {"field": "taxon", "type": "nominal", "sort": null, "title": "Taxa"},
    "yOffset": {"field": "group", "sort": "descending"},
    "x": {"field": "beta", "type": "quantitative", "title": "β̂ + 95% CI"},
    "color": {"field": "group", "type": "nominal"}
   }}
 ]}
], "spacing": 0, "resolve": {"scale": {"color": "independent"}, "legend": {"color": "independent"}}},
{"hconcat": [
{"width": 184, "height": 200, "title": {"text": "WESTDIET"}, "data": {"name": "westdiet"},
 "layer": [
  {"data": {"values": [{}]}, "mark": {"type": "rule", "color": "#d4d4d4", "strokeWidth": 2}, "encoding": {"x": {"datum": 0}}},
  {"mark": {"type": "rule", "strokeWidth": 2, "opacity": 0.5},
   "encoding": {
    "y": {"field": "taxon", "type": "nominal", "sort": null, "title": "Taxa", "scale": {"paddingInner": 0.45, "paddingOuter": 0.22},
      "axis": {"labelColor": {"condition": {"test": "indexof(['Lachnospiraceae UCG-001','Clostridium UCG-003','Oscillospiraceae NK4A214 group','Paraprevotella','Hungatella'], datum.value) < 0", "value": "#7a7a7a"}, "value": "#1a1a1a"},
               "labelFontWeight": {"condition": {"test": "indexof(['Lachnospiraceae UCG-001','Clostridium UCG-003','Oscillospiraceae NK4A214 group','Paraprevotella','Hungatella'], datum.value) < 0", "value": "normal"}, "value": "bold"}}},
    "yOffset": {"field": "group", "sort": "descending"},
    "x": {"field": "lo", "type": "quantitative", "title": "β̂ + 95% CI", "scale": {"domain": [-0.0453, 0.0995], "nice": false, "zero": false},
      "axis": {"values": [0, 0.05], "labelExpr": "replace(format(datum.value, '.2f'), '−', '-') + '%'"}},
    "x2": {"field": "hi"},
    "color": {"field": "group", "type": "nominal", "scale": {"domain": ["BDI-II", "WESTDIET"], "range": ["#16168c", "#b0222a"]}, "legend": {"legendX": 54}}
   }},
  {"mark": {"type": "point", "filled": true, "size": 14, "opacity": 1},
   "encoding": {
    "y": {"field": "taxon", "type": "nominal", "sort": null, "title": "Taxa"},
    "yOffset": {"field": "group", "sort": "descending"},
    "x": {"field": "beta", "type": "quantitative", "title": "β̂ + 95% CI"},
    "color": {"field": "group", "type": "nominal"}
   }}
 ]},
{"width": 178, "height": 200, "title": {"text": "UPDI"}, "data": {"name": "updi"},
 "layer": [
  {"data": {"values": [{}]}, "mark": {"type": "rule", "color": "#d4d4d4", "strokeWidth": 2}, "encoding": {"x": {"datum": 0}}},
  {"mark": {"type": "rule", "strokeWidth": 2, "opacity": 0.5},
   "encoding": {
    "y": {"field": "taxon", "type": "nominal", "sort": null, "title": "Taxa", "scale": {"paddingInner": 0.45, "paddingOuter": 0.22},
      "axis": {"labelColor": {"condition": {"test": "indexof(['Paeniclostridium','Intestinibacter','Negativibacillus','Lachnospiraceae UCG-010','Monoglobus','Lachnospiraceae UCG-001','Oscillospiraceae NK4A214 group'], datum.value) < 0", "value": "#7a7a7a"}, "value": "#1a1a1a"},
               "labelFontWeight": {"condition": {"test": "indexof(['Paeniclostridium','Intestinibacter','Negativibacillus','Lachnospiraceae UCG-010','Monoglobus','Lachnospiraceae UCG-001','Oscillospiraceae NK4A214 group'], datum.value) < 0", "value": "normal"}, "value": "bold"}}},
    "yOffset": {"field": "group", "sort": "descending"},
    "x": {"field": "lo", "type": "quantitative", "title": "β̂ + 95% CI", "scale": {"domain": [-0.0357, 0.0436], "nice": false, "zero": false},
      "axis": {"values": [-0.02, 0, 0.02, 0.04], "labelExpr": "replace(format(datum.value, '.2f'), '−', '-') + '%'"}},
    "x2": {"field": "hi"},
    "color": {"field": "group", "type": "nominal", "scale": {"domain": ["BDI-II", "UPDI"], "range": ["#16168c", "#8e1426"]}, "legend": {"legendX": 55}}
   }},
  {"mark": {"type": "point", "filled": true, "size": 14, "opacity": 1},
   "encoding": {
    "y": {"field": "taxon", "type": "nominal", "sort": null, "title": "Taxa"},
    "yOffset": {"field": "group", "sort": "descending"},
    "x": {"field": "beta", "type": "quantitative", "title": "β̂ + 95% CI"},
    "color": {"field": "group", "type": "nominal"}
   }}
 ]}
], "spacing": 0, "resolve": {"scale": {"color": "independent"}, "legend": {"color": "independent"}}}
],
"spacing": 3,
"resolve": {"scale": {"color": "independent"}, "legend": {"color": "independent"}},
"config": {
 "view": {"stroke": null},
 "font": "Liberation Serif",
 "axis": {"labelFont": "Liberation Serif", "titleFont": "Liberation Serif", "domainColor": "#b5b5b5", "domainWidth": 1.5, "ticks": false, "gridColor": "#ebebeb", "gridWidth": 0.7, "labelColor": "#4d4d4d", "titleColor": "#1a1a1a", "titleFontWeight": "normal"},
 "axisX": {"labelFontSize": 5, "titleFontSize": 7, "labelPadding": 2, "titlePadding": 1},
 "axisY": {"labelFontSize": 6.2, "titleFontSize": 6, "titleColor": "#333333", "labelFontStyle": "italic", "labelPadding": 2, "titlePadding": 3, "labelLimit": 200},
 "legend": {"orient": "none", "legendY": -10, "direction": "horizontal", "title": "Estimate for", "titleOrient": "left", "titleFont": "Liberation Serif", "titleFontSize": 6.5, "titleFontWeight": "normal", "titleColor": "#1a1a1a", "titlePadding": 4, "labelFont": "Liberation Serif", "labelFontSize": 5, "labelColor": "#1a1a1a", "symbolType": "cross", "symbolSize": 22, "symbolOpacity": 1, "columnPadding": 5, "labelOffset": 3},
 "title": {"font": "Liberation Serif", "fontSize": 9, "fontWeight": "normal", "color": "#1a1a1a", "anchor": "start", "frame": "bounds", "dx": 21, "offset": 0, "dy": 10}
}
}
